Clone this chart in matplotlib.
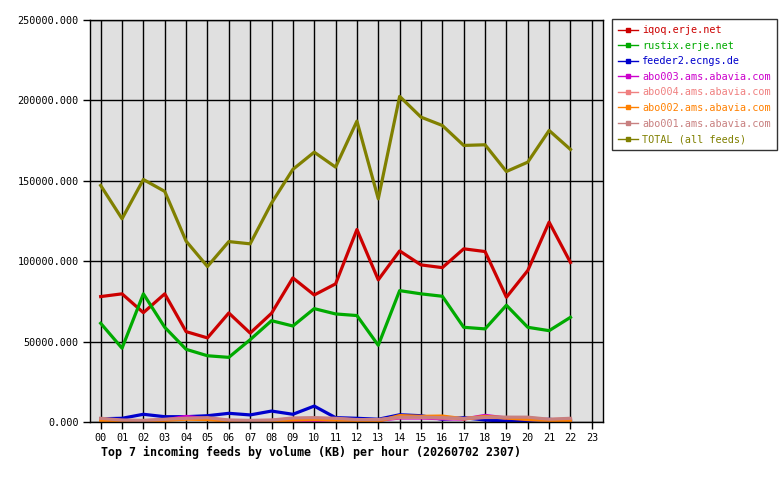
import numpy as np
import matplotlib.pyplot as plt

hours = ["%02d" % h for h in range(24)]

iqoq = [78000, 79700, 68000, 79700, 56200, 52300, 67800, 55300, 67600, 89600, 79000, 85900,
        119700, 88400, 106400, 97700, 96000, 107700, 106000, 77600, 94200, 124300, 99200]
rustix = [61400, 45900, 79700, 58900, 45200, 41200, 40200, 51200, 63000, 59700, 70500, 67200,
          66200, 47700, 81700, 79700, 78200, 58900, 57900, 72600, 58900, 56800, 65100]
feeder2 = [2000, 2300, 4800, 3300, 3300, 3900, 5400, 4400, 6800, 4800, 9900, 2700,
           2300, 1700, 4500, 3900, 1700, 2700, 1200, 600, 1000, 1700, 400]
abo003 = [1500, 800, 600, 1200, 3500, 2000, 800, 600, 800, 600, 800, 1500,
          1200, 1000, 2500, 2500, 2000, 1800, 4100, 2500, 2000, 1200, 1500]
abo004 = [1800, 1000, 800, 1500, 2000, 2200, 1000, 800, 1000, 2000, 2300, 2000,
          1300, 1300, 2800, 2800, 2500, 2000, 2800, 2800, 2600, 1500, 2000]
abo002 = [1000, 600, 500, 1000, 1800, 1500, 600, 500, 700, 1200, 1500, 1200,
          1000, 500, 4000, 3500, 3700, 2000, 3500, 2500, 1500, 1000, 800]
abo001 = [2300, 1200, 1000, 1700, 2300, 2700, 1200, 1000, 1200, 2500, 2700, 2300,
          1500, 1500, 3000, 3000, 2700, 2200, 3000, 3000, 3000, 1700, 2300]
total = [147100, 126400, 150800, 143400, 112500, 96700, 112200, 110800, 136100, 157100, 167800, 158500,
         187100, 138800, 202500, 189600, 184400, 172000, 172400, 155800, 161600, 181300, 169500]

series = [
    ("iqoq.erje.net", iqoq, "#cc0000"),
    ("rustix.erje.net", rustix, "#00aa00"),
    ("feeder2.ecngs.de", feeder2, "#0000cc"),
    ("abo003.ams.abavia.com", abo003, "#cc00cc"),
    ("abo004.ams.abavia.com", abo004, "#f08080"),
    ("abo002.ams.abavia.com", abo002, "#ff8000"),
    ("abo001.ams.abavia.com", abo001, "#c88080"),
    ("TOTAL (all feeds)", total, "#808000"),
]

plt.rcParams['font.family'] = 'DejaVu Sans Mono'

fig = plt.figure(figsize=(7.8, 4.8), dpi=100)
ax = fig.add_axes([90 / 780, 58 / 480, 512.5 / 780, 402 / 480])
ax.set_facecolor("#e0e0e0")

x = np.arange(len(total))
for name, vals, col in series:
    ax.plot(x, vals, color=col, lw=2.3, label=name)

ax.set_xlim(-0.5, 23.5)
ax.set_ylim(0, 250000)
ax.set_xticks(range(24))
ax.set_xticklabels(hours, fontsize=7.3)
yt = [0, 50000, 100000, 150000, 200000, 250000]
ax.set_yticks(yt)
ax.set_yticklabels(["%.3f" % v for v in yt], fontsize=7.3)
ax.grid(True, color="black", lw=1)
ax.set_axisbelow(True)
ax.tick_params(direction="out", length=5, width=1, colors="black", pad=3)
for s in ax.spines.values():
    s.set_linewidth(1)

handles = [plt.Line2D([0, 0.5, 1], [0, 0, 0], color=col, lw=1, marker="s", markersize=2.5,
                      markevery=[1]) for name, vals, col in series]
leg = fig.legend(handles, [s[0] for s in series], loc="upper left",
                 bbox_to_anchor=(612 / 780, 1 - 19 / 480), fontsize=7.3,
                 labelcolor=[s[2] for s in series], frameon=True, fancybox=False,
                 edgecolor="black", handlelength=2.0, handletextpad=0.4,
                 labelspacing=0.55, borderpad=0.6, borderaxespad=0)
leg.get_frame().set_linewidth(1)

fig.text(101 / 780, 1 - 452 / 480, "Top 7 incoming feeds by volume (KB) per hour (20260702 2307)",
         fontsize=8.4, fontweight="bold", va="center", ha="left")

fig.savefig("out.png", dpi=100, facecolor="white")
